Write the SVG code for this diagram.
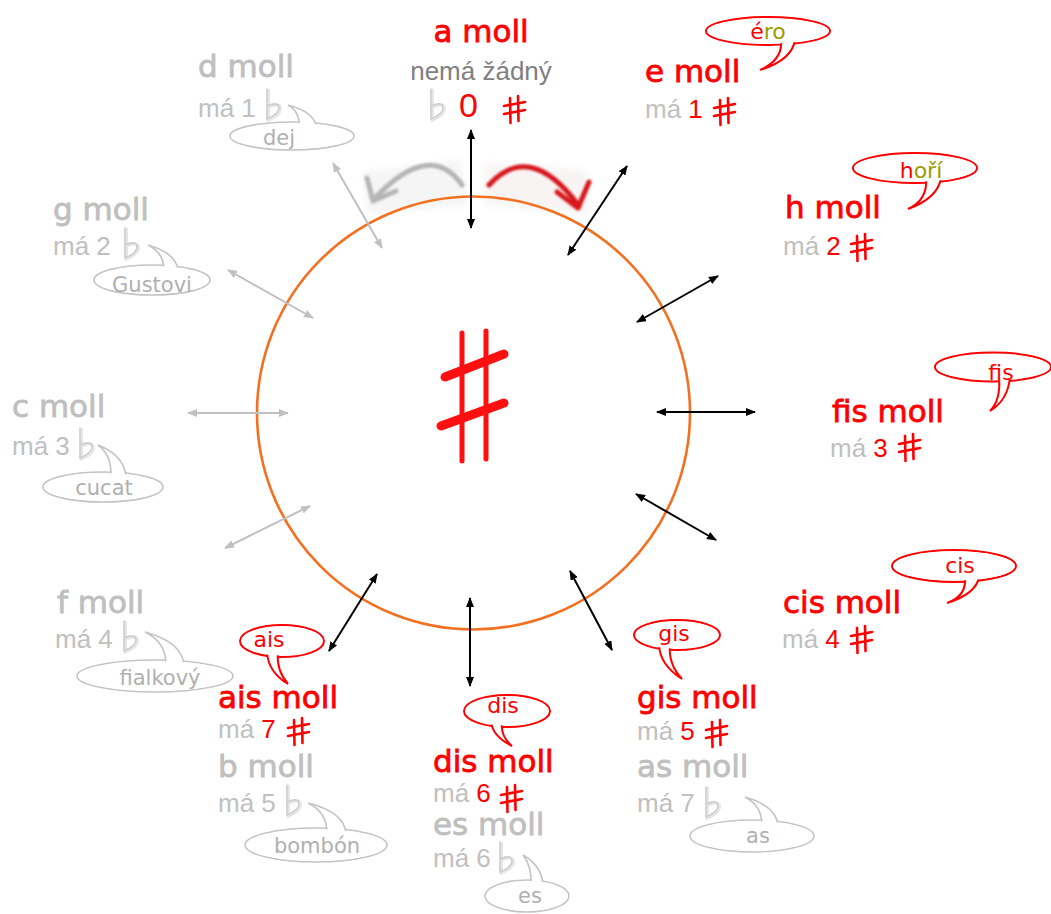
<svg xmlns="http://www.w3.org/2000/svg" xmlns:xlink="http://www.w3.org/1999/xlink" width="1051" height="914" viewBox="0 0 1051 914">
<style>
.t{font-family:"DejaVu Sans","Noto Sans",sans-serif;font-size:31px;stroke-width:0.8}
.r{fill:#ff0000}
.t.r{stroke:#ff0000}
.g{fill:#bfbfbf}
.t.g{stroke:#bfbfbf}
.m{font-family:"Liberation Sans",Arial,sans-serif;font-size:26px;fill:#c0c0c0}
.bt{font-family:"DejaVu Sans","Noto Sans",sans-serif;font-size:22px;text-anchor:middle}
.gt{font-size:21px;fill:#b0b0b0}
.rb{fill:#fff;stroke:#ff0000;stroke-width:2}
.gb{fill:#fff;stroke:#c4c4c4;stroke-width:1.6}
.in{fill:#fff;stroke:none}
.ab{stroke:#000;stroke-width:2;fill:none}
.ag{stroke:#c0c0c0;stroke-width:2;fill:none}
</style>
<defs>
<marker id="mb" viewBox="0 0 10 8" refX="9" refY="4" markerWidth="5" markerHeight="4" orient="auto-start-reverse" markerUnits="strokeWidth"><path d="M0,0 L10,4 L0,8 z" fill="#000"/></marker>
<marker id="mg" viewBox="0 0 10 8" refX="9" refY="4" markerWidth="5" markerHeight="4" orient="auto-start-reverse" markerUnits="strokeWidth"><path d="M0,0 L10,4 L0,8 z" fill="#c0c0c0"/></marker>
<g id="sharp" stroke="#ff0000" stroke-width="2.6" stroke-linecap="round" fill="none">
<path d="M7,3 L7.5,28"/><path d="M15,1 L15.5,26"/><path d="M1,11 L22,7"/><path d="M1,19 L22,15"/>
</g>
<g id="flat" fill="none" stroke-linecap="round">
<path d="M3,1 L3,31 Q15,26 15,20 Q15,13 3,18" stroke="#e6e6e6" stroke-width="3" transform="translate(1.5,1)"/>
<path d="M3,1 L3,31 Q15,26 15,20 Q15,13 3,18" stroke="#cdcdcd" stroke-width="1.6"/>
</g>
<filter id="blur" x="-20%" y="-20%" width="140%" height="140%"><feGaussianBlur stdDeviation="1"/></filter>
<filter id="blur2" x="-20%" y="-20%" width="140%" height="140%"><feGaussianBlur stdDeviation="3"/></filter>
</defs>
<rect width="1051" height="914" fill="#fff"/>

<!-- curved arrows (drawn under the circle) -->
<g id="curved">
<path d="M362,172 L460,160 L468,205 L368,214 z" fill="#f5f5f5" filter="url(#blur2)"/>
<path d="M486,162 L585,170 L590,215 L484,205 z" fill="#f8f4f4" filter="url(#blur2)"/>
<g filter="url(#blur)" stroke-linecap="round" stroke-linejoin="round" fill="none">
<path d="M462,185 Q430,140 375,198" stroke="#b5b5b5" stroke-width="5"/>
<path d="M367,178 L373,201 L396,191" stroke="#b5b5b5" stroke-width="5"/>
<path d="M489,185 Q530,140 579,206" stroke="#d7191c" stroke-width="5"/>
<path d="M557,192 L578,208 L589,182" stroke="#d7191c" stroke-width="5"/>
</g>
</g>

<!-- circle -->
<circle id="circle" cx="473.5" cy="413" r="216.5" fill="none" stroke="#f37021" stroke-width="2.6"/>

<!-- central sharp -->
<g id="bigsharp" stroke="#ff1010" stroke-linecap="round" fill="none">
<path d="M462,333 L462,461" stroke-width="5"/>
<path d="M486,331 L486,459" stroke-width="5"/>
<path d="M445,377 L504,354" stroke-width="9"/>
<path d="M441,426 L504,403" stroke-width="9"/>
</g>

<!-- connectors -->
<g id="connectors">
<line class="ab" x1="471" y1="130" x2="471" y2="228" marker-start="url(#mb)" marker-end="url(#mb)"/>
<line class="ab" x1="627" y1="166" x2="568" y2="255" marker-start="url(#mb)" marker-end="url(#mb)"/>
<line class="ab" x1="718" y1="276" x2="637" y2="322" marker-start="url(#mb)" marker-end="url(#mb)"/>
<line class="ab" x1="755" y1="412" x2="657" y2="412" marker-start="url(#mb)" marker-end="url(#mb)"/>
<line class="ab" x1="716" y1="540" x2="636" y2="494" marker-start="url(#mb)" marker-end="url(#mb)"/>
<line class="ab" x1="612" y1="650" x2="570" y2="571" marker-start="url(#mb)" marker-end="url(#mb)"/>
<line class="ab" x1="470" y1="598" x2="470" y2="686" marker-start="url(#mb)" marker-end="url(#mb)"/>
<line class="ab" x1="377" y1="574" x2="329" y2="651" marker-start="url(#mb)" marker-end="url(#mb)"/>
<line class="ag" x1="310" y1="506" x2="225" y2="548" marker-start="url(#mg)" marker-end="url(#mg)"/>
<line class="ag" x1="288" y1="413" x2="188" y2="413" marker-start="url(#mg)" marker-end="url(#mg)"/>
<line class="ag" x1="313" y1="318" x2="228" y2="270" marker-start="url(#mg)" marker-end="url(#mg)"/>
<line class="ag" x1="382" y1="248" x2="333" y2="163" marker-start="url(#mg)" marker-end="url(#mg)"/>
</g>

<!-- a moll -->
<g id="a-moll">
<text class="t r" x="481" y="42" text-anchor="middle" font-size="32">a moll</text>
<text x="481" y="80" text-anchor="middle" font-family="Liberation Sans, Arial, sans-serif" font-size="26" fill="#808080">nemá žádný</text>
<use xlink:href="#flat" x="428" y="88"/>
<text x="459" y="117" font-family="Liberation Sans, Arial, sans-serif" font-size="34" fill="#ff0000">0</text>
<use xlink:href="#sharp" x="503" y="95"/>
</g>

<!-- e moll -->
<g id="e-moll">
<ellipse class="rb" cx="768" cy="31" rx="62" ry="14"/>
<path class="rb" d="M781,40 Q783,60 760,70 Q792,60 795,40"/>
<ellipse class="in" cx="768" cy="31" rx="60.5" ry="12.5"/>
<text class="bt" x="768" y="39"><tspan fill="#ff0000">é</tspan><tspan fill="#9a9a00">ro</tspan></text>
<text class="t r" x="645" y="82">e moll</text>
<text class="m" x="645" y="118">má <tspan fill="#ff0000">1</tspan></text>
<use xlink:href="#sharp" x="713" y="97"/>
</g>

<!-- h moll -->
<g id="h-moll">
<ellipse class="rb" cx="915" cy="168" rx="62" ry="15"/>
<path class="rb" d="M926,178 Q928,200 908,209 Q938,198 941,178"/>
<ellipse class="in" cx="915" cy="168" rx="60.5" ry="13.5"/>
<text class="bt" x="921" y="178"><tspan fill="#ff0000">h</tspan><tspan fill="#9a9a00">oří</tspan></text>
<text class="t r" x="785" y="218">h moll</text>
<text class="m" x="783" y="255">má <tspan fill="#ff0000">2</tspan></text>
<use xlink:href="#sharp" x="850" y="233"/>
</g>

<!-- fis moll -->
<g id="fis-moll">
<ellipse class="rb" cx="993" cy="367" rx="58" ry="14.5"/>
<path class="rb" d="M999,377 Q1001,400 990,411 Q1008,400 1010,377"/>
<ellipse class="in" cx="993" cy="367" rx="56.5" ry="13"/>
<text class="bt r" x="1001" y="380" font-size="24">fis</text>
<text class="t r" x="832" y="422">fis moll</text>
<text class="m" x="830" y="457">má <tspan fill="#ff0000">3</tspan></text>
<use xlink:href="#sharp" x="898" y="433"/>
</g>

<!-- cis moll -->
<g id="cis-moll">
<ellipse class="rb" cx="954" cy="566" rx="62" ry="16"/>
<path class="rb" d="M965,577 Q967,596 947,603 Q976,594 979,577"/>
<ellipse class="in" cx="954" cy="566" rx="60.5" ry="14.5"/>
<text class="bt r" x="960" y="573">cis</text>
<text class="t r" x="783" y="613">cis moll</text>
<text class="m" x="782" y="648">má <tspan fill="#ff0000">4</tspan></text>
<use xlink:href="#sharp" x="850" y="625"/>
</g>

<!-- gis moll / as moll -->
<g id="gis-moll">
<ellipse class="rb" cx="677" cy="635" rx="43" ry="15"/>
<path class="rb" d="M659,645 Q660,665 682,679 Q668,664 670,645"/>
<ellipse class="in" cx="677" cy="635" rx="41.5" ry="13.5"/>
<text class="bt r" x="674" y="641">gis</text>
<text class="t r" x="637" y="708">gis moll</text>
<text class="m" x="637" y="740">má <tspan fill="#ff0000">5</tspan></text>
<use xlink:href="#sharp" x="705" y="719"/>
<text class="t g" x="637" y="777">as moll</text>
<text class="m" x="637" y="812">má 7</text>
<use xlink:href="#flat" x="703" y="786"/>
<ellipse class="gb" cx="752" cy="836" rx="62" ry="16"/>
<path class="gb" d="M762,825 Q762,806 745,797 Q776,806 778,825"/>
<ellipse class="in" cx="752" cy="836" rx="60.8" ry="14.8"/>
<text class="bt gt" x="758" y="843">as</text>
</g>

<!-- dis moll / es moll -->
<g id="dis-moll">
<ellipse class="rb" cx="507" cy="711" rx="43" ry="16"/>
<path class="rb" d="M491,721 Q492,736 512,746 Q500,736 502,721"/>
<ellipse class="in" cx="507" cy="711" rx="41.5" ry="14.5"/>
<text class="bt r" x="503" y="713">dis</text>
<text class="t r" x="433" y="772">dis moll</text>
<text class="m" x="433" y="802">má <tspan fill="#ff0000">6</tspan></text>
<use xlink:href="#sharp" x="500" y="784"/>
<text class="t g" x="433" y="835" font-size="28">es moll</text>
<text class="m" x="433" y="867">má 6</text>
<use xlink:href="#flat" x="497" y="841"/>
<ellipse class="gb" cx="527" cy="896" rx="42" ry="16"/>
<path class="gb" d="M531,885 Q532,866 523,855 Q542,866 543,885"/>
<ellipse class="in" cx="527" cy="896" rx="40.8" ry="14.8"/>
<text class="bt gt" x="530" y="903">es</text>
</g>

<!-- ais moll / b moll -->
<g id="ais-moll">
<ellipse class="rb" cx="282" cy="641" rx="42" ry="16"/>
<path class="rb" d="M267,652 Q268,672 288,684 Q276,670 278,652"/>
<ellipse class="in" cx="282" cy="641" rx="40.5" ry="14.5"/>
<text class="bt r" x="269" y="647">ais</text>
<text class="t r" x="218" y="708">ais moll</text>
<text class="m" x="218" y="738">má <tspan fill="#ff0000">7</tspan></text>
<use xlink:href="#sharp" x="287" y="717"/>
<text class="t g" x="218" y="777">b moll</text>
<text class="m" x="218" y="812">má 5</text>
<use xlink:href="#flat" x="284" y="784"/>
<ellipse class="gb" cx="316" cy="845" rx="71" ry="17"/>
<path class="gb" d="M327,833 Q327,812 308,803 Q344,812 346,833"/>
<ellipse class="in" cx="316" cy="845" rx="69.8" ry="15.8"/>
<text class="bt gt" x="317" y="853">bombón</text>
</g>

<!-- f moll -->
<g id="f-moll">
<text class="t g" x="57" y="613">f moll</text>
<text class="m" x="55" y="648">má 4</text>
<use xlink:href="#flat" x="121" y="620"/>
<ellipse class="gb" cx="155" cy="676" rx="78" ry="16"/>
<path class="gb" d="M166,665 Q166,642 145,632 Q182,642 184,665"/>
<ellipse class="in" cx="155" cy="676" rx="76.8" ry="14.8"/>
<text class="bt gt" x="160" y="685">fialkový</text>
</g>

<!-- c moll -->
<g id="c-moll">
<text class="t g" x="12" y="417">c moll</text>
<text class="m" x="12" y="455">má 3</text>
<use xlink:href="#flat" x="77" y="427"/>
<ellipse class="gb" cx="103" cy="487" rx="60" ry="15"/>
<path class="gb" d="M111,477 Q112,455 98,445 Q124,455 126,477"/>
<ellipse class="in" cx="103" cy="487" rx="58.8" ry="13.8"/>
<text class="bt gt" x="104" y="495">cucat</text>
</g>

<!-- g moll -->
<g id="g-moll">
<text class="t g" x="53" y="220">g moll</text>
<text class="m" x="53" y="255">má 2</text>
<use xlink:href="#flat" x="122" y="227"/>
<ellipse class="gb" cx="152" cy="280" rx="58" ry="15"/>
<path class="gb" d="M164,270 Q164,253 148,245 Q176,253 178,270"/>
<ellipse class="in" cx="152" cy="280" rx="56.8" ry="13.8"/>
<text class="bt gt" x="152" y="292">Gustovi</text>
</g>

<!-- d moll -->
<g id="d-moll">
<text class="t g" x="198" y="77">d moll</text>
<text class="m" x="198" y="117">má 1</text>
<use xlink:href="#flat" x="264" y="88"/>
<ellipse class="gb" cx="292" cy="136" rx="62" ry="14"/>
<path class="gb" d="M299,126 Q300,112 288,105 Q314,112 316,126"/>
<ellipse class="in" cx="292" cy="136" rx="60.8" ry="12.8"/>
<text class="bt gt" x="279" y="145">dej</text>
</g>
</svg>
